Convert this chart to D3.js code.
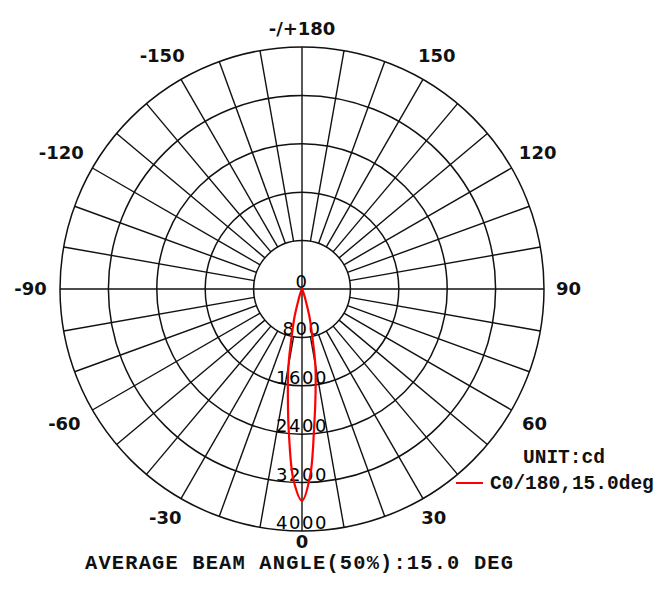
<!DOCTYPE html>
<html>
<head>
<meta charset="utf-8">
<script src="https://cdn.jsdelivr.net/npm/d3@7"></script>
<style>
html,body{margin:0;padding:0;background:#fff;}
svg{display:block;}
</style>
</head>
<body>
<svg id="chart" width="660" height="595"></svg>
<script>
// ---- data ----
const gammaAngles = [-30,-25,-20,-17.5,-15,-12.5,-10,-7.5,-5,-2.5,0,2.5,5,7.5,10,12.5,15,17.5,20,25,30];
const intensityC0C180 = [0,25,100,220,480,770,1290,1790,2450,3170,3500,3090,2300,1720,1270,760,480,220,100,25,0];
const ringValues = [800,1600,2400,3200,4000];
const ringLabels = ["0","800","1600","2400","3200","4000"];
const angleTicks = [0,30,60,90,120,150,180,-150,-120,-90,-60,-30];
const angleTickLabels = ["0","30","60","90","120","150","-/+180","-150","-120","-90","-60","-30"];
const legendLabel = "C0/180,15.0deg";
const unitLabel = "UNIT:cd";
const titleText = "AVERAGE BEAM ANGLE(50%):15.0 DEG";

// ---- layout ----
const cx = 302, cy = 289, R = 242;
const svg = d3.select("#chart");
const r = d3.scaleLinear().domain([0, 4000]).range([0, R]);
const toRad = d => (180 - d) * Math.PI / 180; // 0 at bottom, positive to the right
const g = svg.append("g").attr("transform", `translate(${cx},${cy})`);
const gridColor = "#111";
const monoFont = "'Liberation Mono', 'Courier New', monospace";

// rings
g.selectAll("circle.ring").data(ringValues).enter().append("circle")
  .attr("class","ring").attr("r", d => r(d))
  .attr("fill","none").attr("stroke",gridColor).attr("stroke-width",1.5);

// spokes every 10 deg
const spokes = d3.range(0, 360, 10);
g.selectAll("line.spoke").data(spokes).enter().append("line")
  .attr("class","spoke")
  .attr("x1", d => (d % 90 === 0 ? 0 : r(ringValues[0])) * Math.sin(toRad(d)))
  .attr("y1", d => -(d % 90 === 0 ? 0 : r(ringValues[0])) * Math.cos(toRad(d)))
  .attr("x2", d => R * Math.sin(toRad(d)))
  .attr("y2", d => -R * Math.cos(toRad(d)))
  .attr("stroke",gridColor).attr("stroke-width",1.4);

// ring labels
g.selectAll("text.rlab").data(ringLabels).enter().append("text")
  .attr("class","rlab")
  .attr("x", 0)
  .attr("y", (d,i) => i === 0 ? -1 : r(+d) - 2)
  .attr("text-anchor","middle")
  .attr("font-family","'DejaVu Sans', sans-serif")
  .attr("font-size","18px")
  .attr("letter-spacing","1.5px")
  .attr("fill","#000")
  .text(d => d);

// intensity curve
const line = d3.lineRadial()
  .angle((d,i) => toRad(gammaAngles[i]))
  .radius(d => r(d))
  .curve(d3.curveCatmullRomClosed.alpha(0.5));
g.append("path").datum(intensityC0C180)
  .attr("d", line)
  .attr("fill","none").attr("stroke","#ff0000").attr("stroke-width",2.2);

// angle labels
const labelR = a => 256.5 + 3.5 * Math.cos(a) + 10 * Math.abs(Math.sin(a)) + 6 * Math.abs(Math.sin(2 * a));
g.selectAll("text.alab").data(angleTicks).enter().append("text")
  .attr("class","alab")
  .attr("x", d => {
    const a = toRad(d);
    return labelR(a) * Math.sin(a) + (d < 0 ? -5 : 0);
  })
  .attr("y", d => {
    const a = toRad(d);
    return -labelR(a) * Math.cos(a);
  })
  .attr("dy","0.36em")
  .attr("text-anchor","middle")
  .attr("font-family","'DejaVu Sans', sans-serif")
  .attr("font-weight","bold")
  .attr("font-size","18px")
  .attr("fill","#111")
  .text((d,i) => angleTickLabels[i]);

// legend
svg.append("text").attr("x",523).attr("y",463)
  .attr("font-family",monoFont)
  .attr("font-weight","bold").attr("font-size","19.5px").attr("fill","#111")
  .text(unitLabel);
svg.append("line").attr("x1",456).attr("x2",483).attr("y1",483).attr("y2",483)
  .attr("stroke","#ff0000").attr("stroke-width",2);
svg.append("text").attr("x",490).attr("y",489)
  .attr("font-family",monoFont)
  .attr("font-weight","bold").attr("font-size","19.5px").attr("fill","#111")
  .text(legendLabel);

// title
svg.append("text").attr("x",85).attr("y",569)
  .attr("font-family",monoFont)
  .attr("font-weight","bold").attr("font-size","20.4px").attr("fill","#111")
  .attr("textLength",428).attr("lengthAdjust","spacing")
  .text(titleText);
</script>
</body>
</html>
